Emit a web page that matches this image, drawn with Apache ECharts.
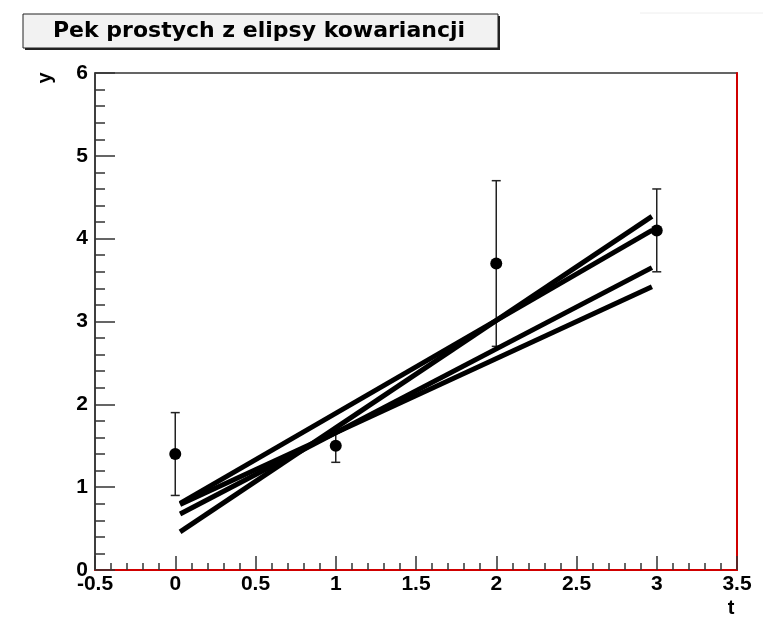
<!DOCTYPE html>
<html>
<head>
<meta charset="utf-8">
<script src="https://cdn.jsdelivr.net/npm/echarts@6/dist/echarts.min.js"></script>
<style>
  html, body { margin: 0; background: #fff; }
  #chart { width: 763px; height: 629px; }
</style>
</head>
<body>
<div id="chart"></div>
<script>
// measured points with vertical errors
const tValues = [0, 1, 2, 3];
const yValues = [1.4, 1.5, 3.7, 4.1];
const yErrors = [0.5, 0.2, 1.0, 0.5];

// pencil of lines: value at first and last t
const lineT = [0.03, 2.97];
const lineStarts = [0.46, 0.805, 0.675, 0.79];
const lineEnds = [4.27, 4.1, 3.65, 3.42];

const FONT = '"Liberation Sans", Arial, sans-serif';
const AXIS_DARK = '#333';

const chart = echarts.init(document.getElementById('chart'));

const pencil = lineStarts.map((y0, i) => ({
  type: 'line',
  data: [[lineT[0], y0], [lineT[1], lineEnds[i]]],
  symbol: 'none',
  lineStyle: { color: '#000', width: 5 },
  z: 4,
  silent: true,
}));

chart.setOption({
  animation: false,
  grid: {
    left: 95, right: 26, top: 73, bottom: 59,
    show: true, borderColor: AXIS_DARK, borderWidth: 1.5, backgroundColor: '#fff',
  },
  graphic: [
    { type: 'rect', shape: { x: 25, y: 16, width: 475, height: 34 }, style: { fill: '#222' } },
    { type: 'rect', shape: { x: 23, y: 14, width: 475, height: 34 }, style: { fill: '#f2f2f2', stroke: '#222', lineWidth: 1 } },
    {
      type: 'text', x: 259, y: 31,
      style: { text: 'Pek prostych z elipsy kowariancji', font: 'bold 22px "DejaVu Sans", sans-serif', fill: '#000', align: 'center', verticalAlign: 'middle' },
    },
    {
      type: 'text', x: 45, y: 78, rotation: Math.PI / 2,
      style: { text: 'y', font: 'bold 20px ' + FONT, fill: '#000', align: 'center', verticalAlign: 'middle' },
    },
    {
      type: 'text', x: 731, y: 608,
      style: { text: 't', font: 'bold 20px ' + FONT, fill: '#000', align: 'center', verticalAlign: 'middle' },
    },
    { type: 'line', shape: { x1: 640, y1: 13, x2: 763, y2: 13 }, style: { stroke: '#eee', lineWidth: 1 } },
  ],
  xAxis: {
    type: 'value',
    min: -0.5, max: 3.5, interval: 0.5,
    axisLine: { show: true, onZero: false, lineStyle: { color: '#d00000', width: 2 } },
    axisTick: { show: true, inside: true, length: 14, lineStyle: { color: AXIS_DARK, width: 1.5 } },
    minorTick: { show: true, splitNumber: 5, length: 7, lineStyle: { color: AXIS_DARK, width: 1.5 } },
    splitLine: { show: false },
    axisLabel: { color: '#000', fontFamily: FONT, fontWeight: 'bold', fontSize: 21, margin: 4, showMinLabel: true, showMaxLabel: true },
  },
  yAxis: [
    {
      type: 'value',
      min: 0, max: 6, interval: 1,
      axisLine: { show: true, onZero: false, lineStyle: { color: AXIS_DARK, width: 1.5 } },
      axisTick: { show: true, inside: true, length: 20, lineStyle: { color: AXIS_DARK, width: 1.5 } },
      minorTick: { show: true, splitNumber: 5, length: 10, lineStyle: { color: AXIS_DARK, width: 1.5 } },
      splitLine: { show: false },
      axisLabel: { color: '#000', fontFamily: FONT, fontWeight: 'bold', fontSize: 21, margin: 7, showMinLabel: true, showMaxLabel: true },
    },
    {
      type: 'value', position: 'right',
      min: 0, max: 6,
      axisLine: { show: true, onZero: false, lineStyle: { color: '#d00000', width: 2 } },
      axisTick: { show: false },
      axisLabel: { show: false },
      splitLine: { show: false },
    },
  ],
  series: [
    {
      type: 'custom',
      data: tValues.map((t, i) => [t, yValues[i], yErrors[i]]),
      z: 2,
      silent: true,
      renderItem: (params, api) => {
        const t = api.value(0);
        const y = api.value(1);
        const e = api.value(2);
        const lo = api.coord([t, y - e]);
        const hi = api.coord([t, y + e]);
        const style = { stroke: '#222', lineWidth: 1.5 };
        const cap = 4.5;
        return {
          type: 'group',
          children: [
            { type: 'line', shape: { x1: lo[0], y1: lo[1], x2: hi[0], y2: hi[1] }, style },
            { type: 'line', shape: { x1: lo[0] - cap, y1: lo[1], x2: lo[0] + cap, y2: lo[1] }, style },
            { type: 'line', shape: { x1: hi[0] - cap, y1: hi[1], x2: hi[0] + cap, y2: hi[1] }, style },
          ],
        };
      },
    },
    {
      type: 'scatter',
      data: tValues.map((t, i) => [t, yValues[i]]),
      symbol: 'circle',
      symbolSize: 12,
      itemStyle: { color: '#000', opacity: 1 },
      z: 3,
      silent: true,
    },
    ...pencil,
  ],
});

window.addEventListener('resize', () => chart.resize());
</script>
</body>
</html>
